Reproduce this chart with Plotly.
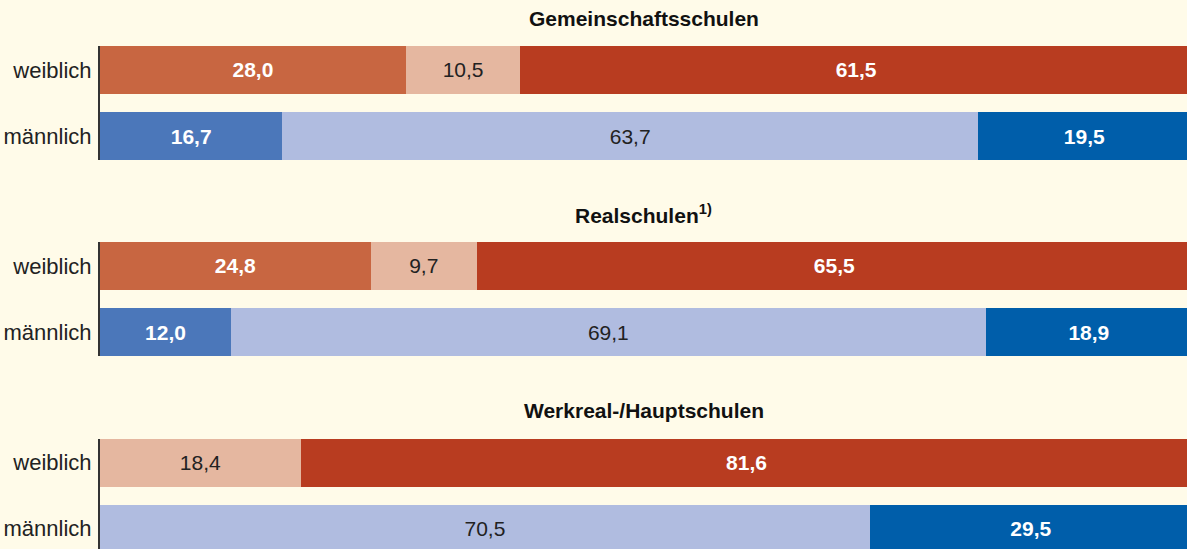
import plotly.graph_objects as go

groups = ["Gemeinschaftsschulen", "Realschulen<sup>1)</sup>", "Werkreal-/Hauptschulen"]
categories = ["männlich", "weiblich"]

weiblich_seg1 = [28.0, 24.8, 0.0]
weiblich_seg2 = [10.5, 9.7, 18.4]
weiblich_seg3 = [61.5, 65.5, 81.6]
maennlich_seg1 = [16.7, 12.0, 0.0]
maennlich_seg2 = [63.7, 69.1, 70.5]
maennlich_seg3 = [19.5, 18.9, 29.5]

w_colors = ["#C86641", "#E5B7A0", "#B83C20"]
m_colors = ["#4B77BA", "#B0BCE0", "#005EAA"]
text_colors = ["white", "#222222", "white"]
text_bold = [True, False, True]

BG = "#FFFBE9"
FONT = "Liberation Sans, Arial, sans-serif"
H = 549
W = 1187

# pixel extents of each group's plot area (top, bottom) and y-range
domains_px = [(46, 160), (242, 356), (439, 549)]
ranges = [[-0.36, 1.36], [-0.36, 1.36], [1.36 - 110 / 66.0, 1.36]]
X_MAX = 99.54  # the reference is cropped on the right

fig = go.Figure()

def fmt(v):
    return f"{v:.1f}".replace(".", ",")

for gi in range(3):
    yref = "y" if gi == 0 else f"y{gi + 1}"
    w_vals = [weiblich_seg1[gi], weiblich_seg2[gi], weiblich_seg3[gi]]
    m_vals = [maennlich_seg1[gi], maennlich_seg2[gi], maennlich_seg3[gi]]
    for si in range(3):
        for ypos, vals, cols in ((1, w_vals, w_colors), (0, m_vals, m_colors)):
            v = vals[si]
            if v == 0:
                continue
            t = fmt(v)
            if text_bold[si]:
                t = f"<b>{t}</b>"
            fig.add_trace(go.Bar(
                x=[v], y=[ypos], orientation="h",
                marker=dict(color=cols[si], line=dict(width=0)),
                width=0.727,
                text=[t], textposition="inside", insidetextanchor="middle",
                textangle=0,
                insidetextfont=dict(color=text_colors[si], size=21, family=FONT),
                hoverinfo="skip", showlegend=False,
                xaxis="x" if gi == 0 else f"x{gi + 1}",
                yaxis=yref,
            ))

layout = dict(
    width=W, height=H,
    paper_bgcolor=BG, plot_bgcolor=BG,
    margin=dict(l=100, r=0, t=0, b=0),
    barmode="stack",
    font=dict(family=FONT, color="#222222", size=21),
    uniformtext=dict(minsize=21, mode="show"),
)
for gi in range(3):
    top, bot = domains_px[gi]
    sx = "" if gi == 0 else str(gi + 1)
    layout[f"xaxis{sx}"] = dict(
        range=[0, X_MAX], domain=[0, 1], showgrid=False, zeroline=False,
        showticklabels=False, fixedrange=True,
        anchor=f"y{sx}",
    )
    layout[f"yaxis{sx}"] = dict(
        domain=[1 - bot / H, 1 - top / H], range=ranges[gi],
        tickvals=[0, 1], ticktext=categories,
        showgrid=False, zeroline=False,
        showline=True, linecolor="#333333", linewidth=2,
        ticks="outside", ticklen=2, tickcolor=BG,
        tickfont=dict(size=22, color="#222222", family=FONT),
        anchor=f"x{sx}", fixedrange=True,
    )
fig.update_layout(**layout)

title_y_px = [19, 214, 410]
for gi in range(3):
    fig.add_annotation(
        text=f"<b>{groups[gi]}</b>", xref="paper", yref="paper",
        x=0.5, y=1 - title_y_px[gi] / H, xanchor="center", yanchor="middle",
        showarrow=False, font=dict(size=21, color="#111111", family=FONT),
    )

fig.write_html(
    "out.html",
    config={"displayModeBar": False},
    post_script="document.body.style.margin='0';document.body.style.overflow='hidden';",
)
